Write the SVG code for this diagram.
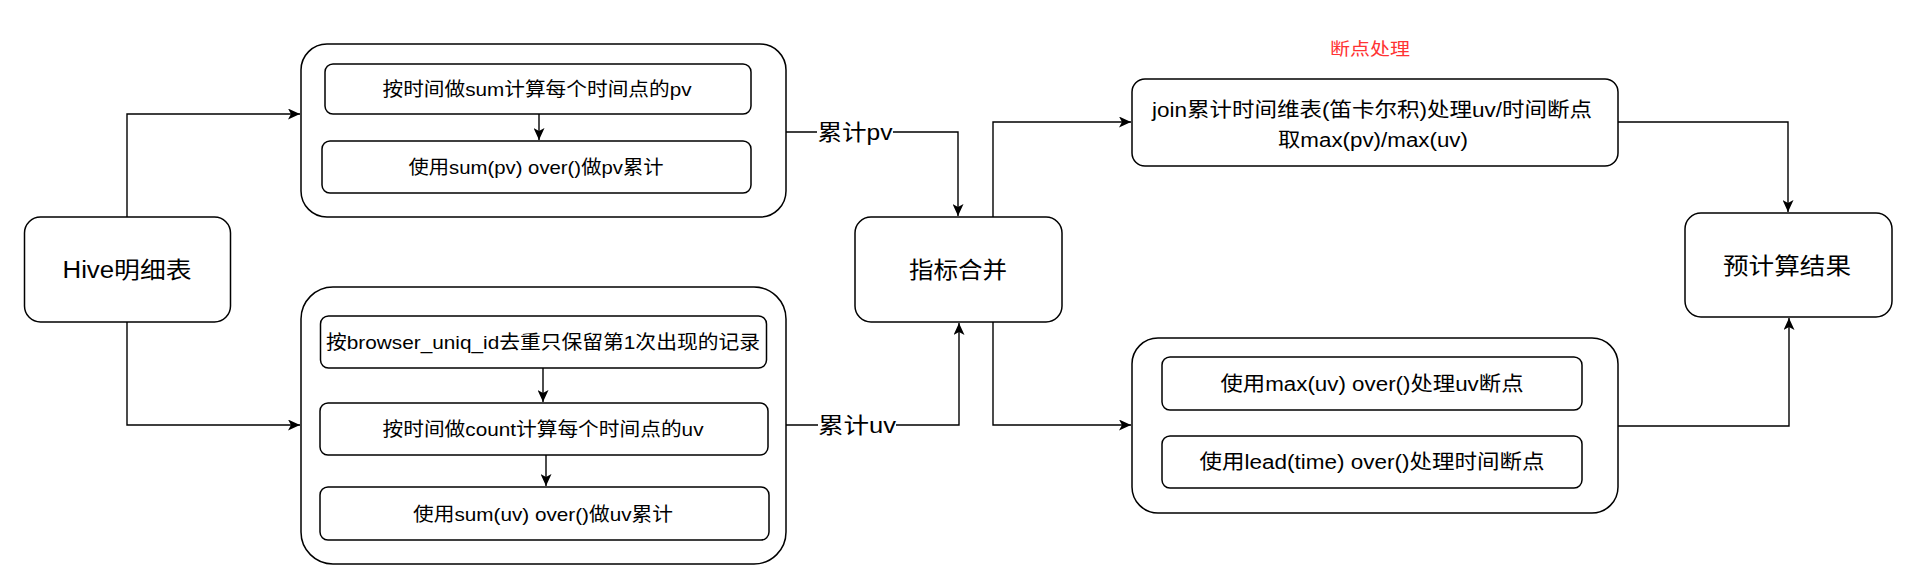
<svg xmlns="http://www.w3.org/2000/svg" width="1920" height="588" viewBox="0 0 1920 588">
<style>
  .box { fill: #ffffff; stroke: #000000; stroke-width: 1.5; }
  .edge { fill: none; stroke: #000000; stroke-width: 1.4; }
  text { font-family: "Liberation Sans", "Noto Sans CJK SC", sans-serif; fill: #000000; text-anchor: middle; }
  .t19 { font-size: 19px; }
  .t20 { font-size: 20px; }
  .big { font-size: 23px; }
  .lbl { font-size: 22px; }
  .red { font-size: 17px; fill: #ff3333; }
</style>
<defs>
  <marker id="arr" viewBox="0 0 12 11" refX="12" refY="5.5" markerWidth="12" markerHeight="11" markerUnits="userSpaceOnUse" orient="auto">
    <path d="M0,0 L12,5.5 L0,11 L3,5.5 Z" fill="#000000"/>
  </marker>
</defs>
<rect x="0" y="0" width="1920" height="588" fill="#ffffff"/>

<g id="hive">
  <rect class="box" x="24.5" y="217" width="206" height="105" rx="16"/>
  <text class="big" x="127" y="270" dy="0.35em" textLength="129" lengthAdjust="spacingAndGlyphs">Hive明细表</text>
</g>

<g id="pv-group">
  <rect class="box" x="301" y="44" width="485" height="173" rx="26"/>
</g>
<g id="pv-step1">
  <rect class="box" x="325" y="64" width="426" height="50" rx="8"/>
  <text class="t19" x="537" y="89" dy="0.35em" textLength="309" lengthAdjust="spacingAndGlyphs">按时间做sum计算每个时间点的pv</text>
</g>
<g id="pv-step2">
  <rect class="box" x="322" y="141" width="429" height="52" rx="8"/>
  <text class="t19" x="536" y="167" dy="0.35em" textLength="255" lengthAdjust="spacingAndGlyphs">使用sum(pv) over()做pv累计</text>
</g>

<g id="uv-group">
  <rect class="box" x="301" y="287" width="485" height="277" rx="32"/>
</g>
<g id="uv-step1">
  <rect class="box" x="320.5" y="316" width="446" height="52" rx="8"/>
  <text class="t19" x="543" y="342" dy="0.35em" textLength="434" lengthAdjust="spacingAndGlyphs">按browser_uniq_id去重只保留第1次出现的记录</text>
</g>
<g id="uv-step2">
  <rect class="box" x="320" y="403" width="448" height="52" rx="8"/>
  <text class="t19" x="543" y="429" dy="0.35em" textLength="321" lengthAdjust="spacingAndGlyphs">按时间做count计算每个时间点的uv</text>
</g>
<g id="uv-step3">
  <rect class="box" x="320" y="487" width="449" height="53" rx="8"/>
  <text class="t19" x="543" y="514" dy="0.35em" textLength="260" lengthAdjust="spacingAndGlyphs">使用sum(uv) over()做uv累计</text>
</g>

<g id="merge">
  <rect class="box" x="855" y="217" width="207" height="105" rx="16"/>
  <text class="big" x="958" y="270" dy="0.35em" textLength="98" lengthAdjust="spacingAndGlyphs">指标合并</text>
</g>

<g id="breakpoint-label">
  <text class="red" x="1370" y="49" dy="0.35em" textLength="80" lengthAdjust="spacingAndGlyphs">断点处理</text>
</g>

<g id="join">
  <rect class="box" x="1132" y="79" width="486" height="87" rx="13"/>
  <text class="t20" x="1372" y="110" dy="0.35em" textLength="440" lengthAdjust="spacingAndGlyphs">join累计时间维表(笛卡尔积)处理uv/时间断点</text>
  <text class="t20" x="1373" y="140" dy="0.35em" textLength="190" lengthAdjust="spacingAndGlyphs">取max(pv)/max(uv)</text>
</g>

<g id="window-group">
  <rect class="box" x="1132" y="338" width="486" height="175" rx="26"/>
</g>
<g id="window-step1">
  <rect class="box" x="1162" y="357" width="420" height="53" rx="8"/>
  <text class="t20" x="1372" y="384" dy="0.35em" textLength="303" lengthAdjust="spacingAndGlyphs">使用max(uv) over()处理uv断点</text>
</g>
<g id="window-step2">
  <rect class="box" x="1162" y="436" width="420" height="52" rx="8"/>
  <text class="t20" x="1372" y="462" dy="0.35em" textLength="345" lengthAdjust="spacingAndGlyphs">使用lead(time) over()处理时间断点</text>
</g>

<g id="result">
  <rect class="box" x="1685" y="213" width="207" height="104" rx="16"/>
  <text class="big" x="1787" y="266" dy="0.35em" textLength="128" lengthAdjust="spacingAndGlyphs">预计算结果</text>
</g>

<g id="connectors">
  <path class="edge" d="M127,217 V114 H300" marker-end="url(#arr)"/>
  <path class="edge" d="M127,322 V425 H300" marker-end="url(#arr)"/>
  <path class="edge" d="M786,132 H958 V216" marker-end="url(#arr)"/>
  <path class="edge" d="M786,425 H959 V323" marker-end="url(#arr)"/>
  <path class="edge" d="M993,217 V122 H1131" marker-end="url(#arr)"/>
  <path class="edge" d="M993,322 V425 H1131" marker-end="url(#arr)"/>
  <path class="edge" d="M1618,122 H1788 V212" marker-end="url(#arr)"/>
  <path class="edge" d="M1618,426 H1789 V318" marker-end="url(#arr)"/>
  <path class="edge" d="M539,114 V140" marker-end="url(#arr)"/>
  <path class="edge" d="M543,368 V402" marker-end="url(#arr)"/>
  <path class="edge" d="M546,455 V486" marker-end="url(#arr)"/>
  <rect x="817" y="118" width="76" height="28" fill="#ffffff"/>
  <text class="lbl" x="855" y="132" dy="0.35em" textLength="75" lengthAdjust="spacingAndGlyphs">累计pv</text>
  <rect x="818" y="411" width="78" height="28" fill="#ffffff"/>
  <text class="lbl" x="857" y="425" dy="0.35em" textLength="78" lengthAdjust="spacingAndGlyphs">累计uv</text>
</g>
</svg>
